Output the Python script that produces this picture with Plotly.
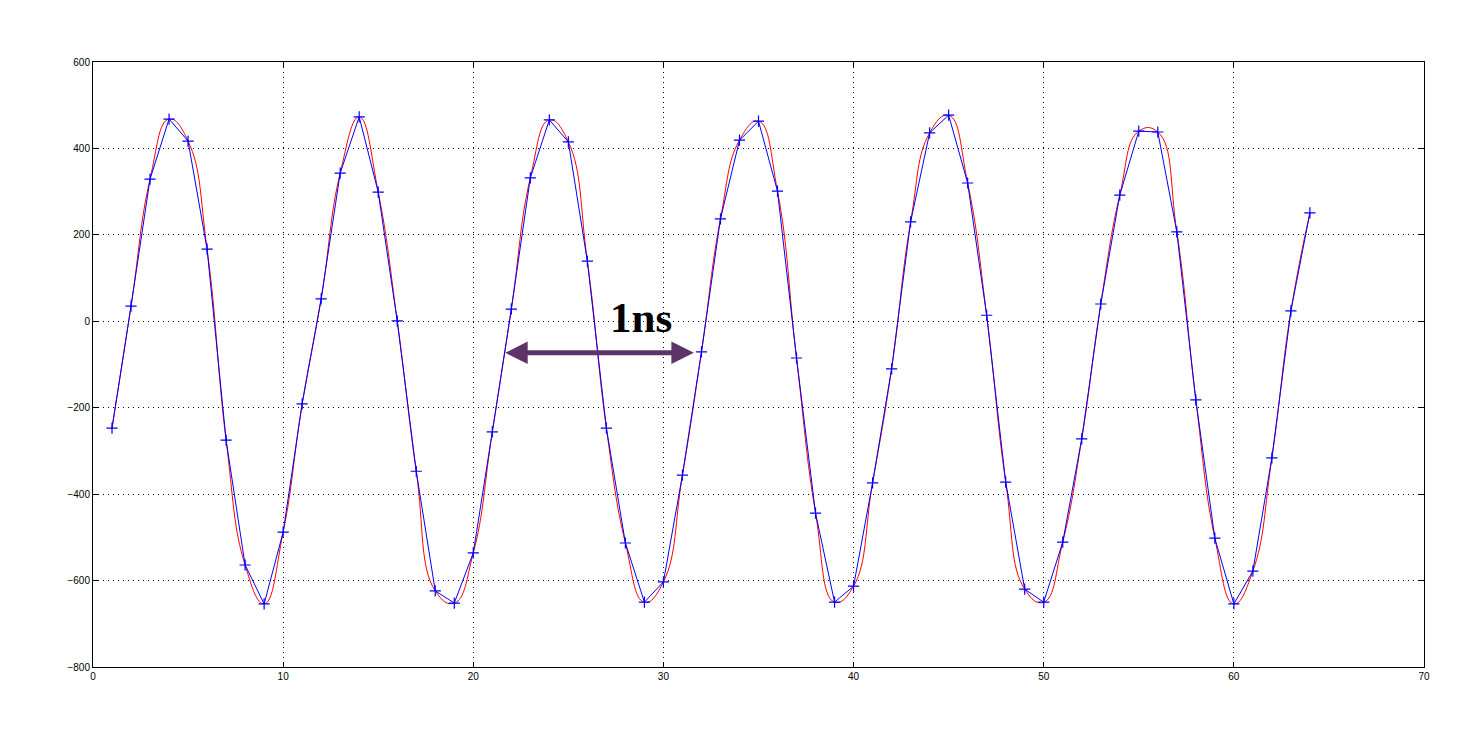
import plotly.graph_objects as go

sample_index = list(range(1, 65))
samples = [
    -247, 35, 329, 468, 417, 167, -275, -564, -654, -488,
    -191, 52, 343, 473, 299, 1, -347, -624, -652, -536,
    -256, 28, 332, 466, 415, 139, -247, -513, -650, -603,
    -356, -71, 237, 419, 463, 301, -85, -444, -650, -613,
    -374, -110, 230, 436, 477, 320, 14, -372, -620, -650,
    -511, -272, 40, 292, 440, 438, 207, -182, -502, -654,
    -578, -316, 24, 251,
]

x_ticks = [0, 10, 20, 30, 40, 50, 60, 70]
y_ticks = [-800, -600, -400, -200, 0, 200, 400, 600]

arrow_start_x, arrow_end_x, arrow_y = 21.6, 31.6, -73
label_text = "1ns"

fig = go.Figure()

fig.add_trace(go.Scatter(
    x=sample_index, y=samples, mode="lines",
    line=dict(color="#FF0000", width=1, shape="spline", smoothing=1.3),
    hoverinfo="skip", showlegend=False,
))
fig.add_trace(go.Scatter(
    x=sample_index, y=samples, mode="lines+markers",
    line=dict(color="#0000FF", width=1),
    marker=dict(symbol="cross-thin", size=8, line=dict(color="#0000FF", width=1.2)),
    showlegend=False,
))

axis_common = dict(
    showline=True, linecolor="black", linewidth=1, mirror="ticks",
    ticks="inside", ticklen=5, tickcolor="black",
    showgrid=True, gridcolor="black", gridwidth=1, griddash="1px,4px",
    zeroline=False,
    tickfont=dict(family="Liberation Sans, Arial, sans-serif", size=10, color="black"),
)

fig.update_xaxes(range=[0, 70], tickvals=x_ticks, **axis_common)
fig.update_yaxes(range=[-800, 600], tickvals=y_ticks, **axis_common)

fig.add_annotation(
    x=arrow_end_x, y=arrow_y, ax=arrow_start_x, ay=arrow_y,
    xref="x", yref="y", axref="x", ayref="y",
    text="", showarrow=True, arrowhead=2, arrowside="end+start",
    arrowsize=0.9, arrowwidth=5, arrowcolor="#5E3468",
)
fig.add_annotation(
    x=28.8, y=8, xref="x", yref="y", text="<b>" + label_text + "</b>",
    showarrow=False,
    font=dict(family="Liberation Serif, Times New Roman, serif", size=43, color="black"),
)

fig.update_layout(
    width=1469, height=731,
    margin=dict(l=85, r=53, t=54, b=72),
    paper_bgcolor="white", plot_bgcolor="white",
)

fig.write_html("out.html")
